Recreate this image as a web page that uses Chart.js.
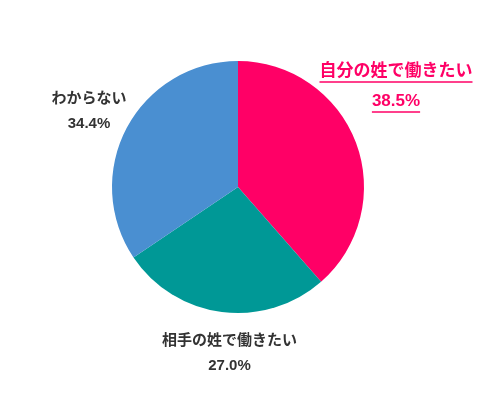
<!DOCTYPE html>
<html lang="ja">
<head>
<meta charset="utf-8">
<title>働きたい姓</title>
<script src="https://cdn.jsdelivr.net/npm/chart.js@4/dist/chart.umd.min.js"></script>
<style>
    html, body { margin: 0; padding: 0; background: #fff; }
    #pieChart { display: block; }
</style>
</head>
<body>
<canvas id="pieChart" width="504" height="400"></canvas>
<script>
// Data
const labels = ['自分の姓で働きたい', '相手の姓で働きたい', 'わからない'];
const values = [38.5, 27.0, 34.4];
const colors = ['#ff0066', '#009896', '#4a8fd1'];

// Label placement relative to the pie centre (text only, not the slices)
const labelStyles = [
    { dx: 158, dy: -116, gap: 30, size: 17, color: '#ff0066', underline: true },
    { dx: -8.5, dy: 154, gap: 25, size: 15, color: '#333333', underline: false },
    { dx: -149, dy: -88, gap: 25, size: 15, color: '#333333', underline: false },
];

const FONT = '"Liberation Sans", "Noto Sans CJK JP", sans-serif';

const sliceLabels = {
    id: 'sliceLabels',
    afterDatasetsDraw(chart) {
        const ctx = chart.ctx;
        const meta = chart.getDatasetMeta(0);
        meta.data.forEach((arc, i) => {
            const s = labelStyles[i];
            const x = arc.x + s.dx;
            const y = arc.y + s.dy;
            const lines = [labels[i], values[i].toFixed(1) + '%'];
            ctx.save();
            ctx.font = 'bold ' + s.size + 'px ' + FONT;
            ctx.fillStyle = s.color;
            ctx.strokeStyle = s.color;
            ctx.textAlign = 'center';
            ctx.textBaseline = 'middle';
            lines.forEach((text, j) => {
                const ly = y + j * s.gap;
                ctx.fillText(text, x, ly);
                if (s.underline) {
                    const w = ctx.measureText(text).width;
                    ctx.lineWidth = 1.5;
                    ctx.beginPath();
                    ctx.moveTo(x - w / 2, ly + s.size * 0.65);
                    ctx.lineTo(x + w / 2, ly + s.size * 0.65);
                    ctx.stroke();
                }
            });
            ctx.restore();
        });
    }
};

const initializeChart = () => {
    const ctx = document.getElementById('pieChart').getContext('2d');
    new Chart(ctx, {
        type: 'pie',
        data: {
            labels: labels,
            datasets: [
                {
                    data: values,
                    backgroundColor: colors,
                    borderWidth: 0,
                },
            ],
        },
        options: {
            responsive: false,
            animation: false,
            layout: {
                padding: { top: 61, bottom: 87, left: 0, right: 28 },
            },
            plugins: {
                legend: { display: false },
                tooltip: { enabled: false },
            },
        },
        plugins: [sliceLabels],
    });
};

document.addEventListener('DOMContentLoaded', initializeChart);
</script>
</body>
</html>
